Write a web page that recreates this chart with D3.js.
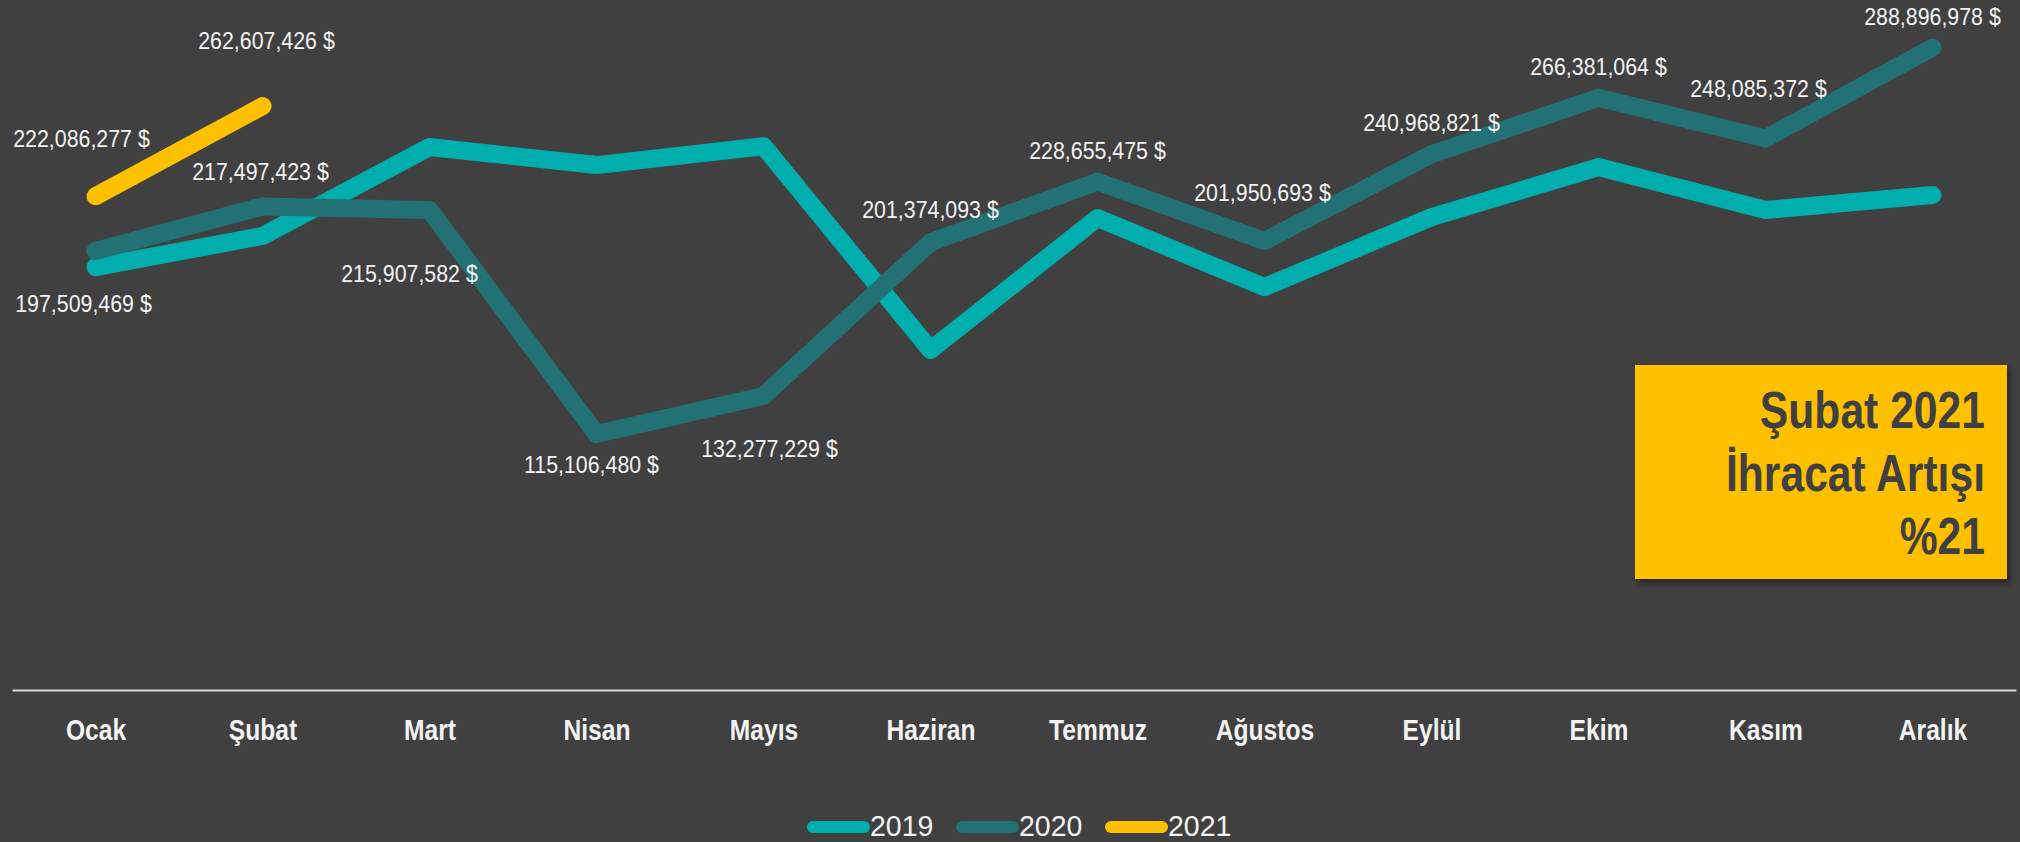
<!DOCTYPE html>
<html>
<head>
<meta charset="utf-8">
<script src="https://cdn.jsdelivr.net/npm/d3@7/dist/d3.min.js"></script>
<style>
  html, body { margin: 0; padding: 0; background: #404040; }
  svg { display: block; }
</style>
</head>
<body>
<div id="chart"></div>
<script>
// ---- data ----
const months = ["Ocak", "Şubat", "Mart", "Nisan", "Mayıs", "Haziran", "Temmuz", "Ağustos", "Eylül", "Ekim", "Kasım", "Aralık"];
const years = ["2019", "2020", "2021"];
const values2019 = [190.2e6, 204.2e6, 244.2e6, 236.1e6, 244.6e6, 152.9e6, 212.3e6, 181.2e6, 212.7e6, 235.2e6, 215.9e6, 222.6e6];
const values2020 = [197509469, 217497423, 215907582, 115106480, 132277229, 201374093, 228655475, 201950693, 240968821, 266381064, 248085372, 288896978];
const values2021 = [222086277, 262607426];
const boxLines = ["Şubat 2021", "İhracat Artışı", "%21"];

// label placement offsets (px, relative to the point), kept apart from the data
const labelOffsets2020 = [[-12, 61], [-2, -26], [-20, 72], [-5, 39], [6, 61], [0, -24], [0, -23], [-2, -40], [0, -23], [0, -23], [-7, -41], [0, -23]];
const labelOffsets2021 = [[-14, -49], [4, -57]];

const W = 2020, H = 842;
const FONT = "'Liberation Sans', Arial, sans-serif";
const NARROW_X = 0.82; // emulate a narrow face by horizontal scaling
const LABEL_X = 0.89;
const colors = { "2019": "#00AEAE", "2020": "#227175", "2021": "#FFC000" };

const svg = d3.select("#chart").append("svg").attr("width", W).attr("height", H);
svg.append("rect").attr("width", W).attr("height", H).attr("fill", "#404040");

const defs = svg.append("defs");
const f = defs.append("filter").attr("id", "shadow").attr("x", "-10%").attr("y", "-10%").attr("width", "130%").attr("height", "130%");
f.append("feDropShadow").attr("dx", 3).attr("dy", 4).attr("stdDeviation", 3).attr("flood-color", "#000").attr("flood-opacity", 0.45);

const x = d3.scalePoint().domain(months).range([12, 2016]).padding(0.5);
const y = d3.scaleLinear().domain([0, 300e6]).range([690, 23]);

// x axis
const xAxis = svg.append("g").attr("transform", "translate(0,690)")
  .call(d3.axisBottom(x).tickSize(0).tickSizeOuter(0));
xAxis.select(".domain").attr("stroke", "#D9D9D9").attr("stroke-width", 2);
xAxis.selectAll(".tick text")
  .attr("x", 0).attr("y", 0).attr("dy", 0)
  .attr("transform", `translate(0,50) scale(${NARROW_X},1)`)
  .attr("fill", "#F2F2F2")
  .style("font-family", FONT).style("font-weight", "bold").style("font-size", "30px");

const series = [
  { key: "2019", values: values2019 },
  { key: "2020", values: values2020 },
  { key: "2021", values: values2021 }
];

const line = d3.line().x((d, i) => x(months[i])).y(d => y(d));

svg.append("g").selectAll("path").data(series).join("path")
  .attr("d", s => line(s.values))
  .attr("fill", "none")
  .attr("stroke", s => colors[s.key])
  .attr("stroke-width", 18)
  .attr("stroke-linecap", "round")
  .attr("stroke-linejoin", "round");

const fmt = v => d3.format(",")(v) + " $";

function labels(vals, offs) {
  svg.append("g").selectAll("text").data(vals).join("text")
    .attr("transform", (d, i) => `translate(${x(months[i]) + offs[i][0]},${y(d) + offs[i][1]}) scale(${LABEL_X},1)`)
    .attr("text-anchor", "middle")
    .attr("fill", "#F2F2F2")
    .style("font-family", FONT).style("font-size", "24px")
    .text(d => fmt(d));
}
labels(values2020, labelOffsets2020);
labels(values2021, labelOffsets2021);

// legend
const lg = svg.append("g").selectAll("g").data(years).join("g")
  .attr("transform", (d, i) => `translate(${807 + i * 149},0)`);
lg.append("line").attr("x1", 6).attr("x2", 57).attr("y1", 827).attr("y2", 827)
  .attr("stroke", d => colors[d]).attr("stroke-width", 12).attr("stroke-linecap", "round");
lg.append("text").attr("transform", "translate(63,836) scale(0.95,1)")
  .attr("fill", "#F2F2F2")
  .style("font-family", FONT).style("font-size", "30px")
  .text(d => d);

// highlight box
const box = svg.append("g");
box.append("rect").attr("x", 1635).attr("y", 365).attr("width", 372).attr("height", 214)
  .attr("fill", "#FFC000").attr("filter", "url(#shadow)");
box.selectAll("text").data(boxLines).join("text")
  .attr("transform", (d, i) => `translate(1985,${428 + i * 63}) scale(${NARROW_X},1)`)
  .attr("text-anchor", "end")
  .attr("fill", "#404040")
  .style("font-family", FONT).style("font-weight", "bold").style("font-size", "52px")
  .text(d => d);
</script>
</body>
</html>
